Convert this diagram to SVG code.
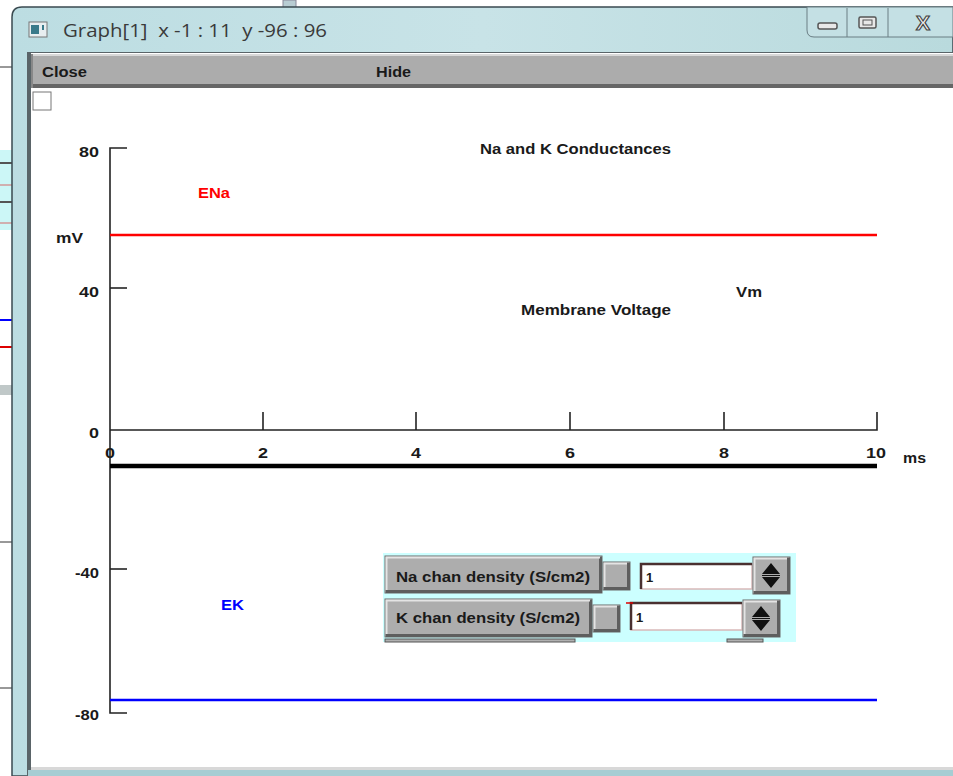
<svg xmlns="http://www.w3.org/2000/svg" width="953" height="776" viewBox="0 0 953 776">
<defs>
<linearGradient id="title" x1="0" y1="0" x2="1" y2="0">
<stop offset="0" stop-color="#bcdde2"/><stop offset="0.5" stop-color="#c8e3e7"/><stop offset="1" stop-color="#b9dadd"/>
</linearGradient>
<style>
.lbl{font-family:"Liberation Sans",Arial,sans-serif;font-weight:bold;font-size:14.5px;fill:#1a1a1a}
.tk{text-anchor:end}
.ax{stroke:#222;stroke-width:1.6;fill:none}
.b3{fill:#adadad;stroke:#6a6a6a;stroke-width:1}
.hl{fill:none;stroke:#e4e4e4;stroke-width:2}
.sh{fill:none;stroke:#5e5e5e;stroke-width:3}
.tf{fill:#fff;stroke:#d8b8b8;stroke-width:1.5}
</style>
</defs>
<rect width="953" height="776" fill="#ffffff"/>
<g id="background">
<rect x="283" y="0" width="13" height="8" fill="#b8cdd3" stroke="#889" stroke-width="1"/>
<line x1="0" y1="67" x2="13" y2="67" stroke="#333" stroke-width="1"/>
<rect x="0" y="150" width="13" height="80" fill="#ccf7f7"/>
<line x1="0" y1="163" x2="13" y2="163" stroke="#555" stroke-width="2"/>
<line x1="0" y1="185" x2="13" y2="185" stroke="#d0b0b0" stroke-width="2"/>
<line x1="0" y1="202" x2="13" y2="202" stroke="#555" stroke-width="2"/>
<line x1="0" y1="223" x2="13" y2="223" stroke="#d0b0b0" stroke-width="2"/>
<line x1="0" y1="320" x2="13" y2="320" stroke="#0000ff" stroke-width="2"/>
<line x1="0" y1="347" x2="13" y2="347" stroke="#d00" stroke-width="2"/>
<rect x="0" y="385" width="13" height="10" fill="#c0c8c8"/>
<line x1="0" y1="542" x2="13" y2="542" stroke="#333" stroke-width="1"/>
<line x1="0" y1="688" x2="13" y2="688" stroke="#333" stroke-width="1"/>
</g>
<g id="window">
<path d="M12,776 V17 Q12,7 22,7 H953 V776 Z" fill="url(#title)" stroke="#3a4a50" stroke-width="1.5"/>
<rect x="27" y="52" width="926" height="724" fill="#5a6468"/>
<rect x="31" y="53" width="922" height="716" fill="#ffffff"/>
<rect x="31" y="767" width="922" height="3" fill="#d8d8d8"/>
<rect x="28" y="770" width="925" height="6" fill="#a6cdd3"/>
<g id="icon">
<rect x="29" y="22" width="18" height="15" fill="#e8eef0" stroke="#777" stroke-width="1"/>
<rect x="31" y="25" width="8" height="9" fill="#3a7a8a"/>
<rect x="42" y="25" width="2" height="5" fill="#3a7a8a"/>
</g>
<text x="63" y="37" font-family="Open Sans,Liberation Sans,sans-serif" font-size="19" fill="#3a3a3a" xml:space="preserve" textLength="264" lengthAdjust="spacingAndGlyphs">Graph[1]  x -1 : 11  y -96 : 96</text>
<g id="caption-buttons">
<path d="M807,7 V30 Q807,37 814,37 H953 V7 Z" fill="#c4e0e4" stroke="#6a7e84" stroke-width="1"/>
<line x1="847" y1="8" x2="847" y2="37" stroke="#6a7e84"/>
<line x1="888" y1="8" x2="888" y2="37" stroke="#6a7e84"/>
<rect x="818" y="23" width="19" height="6" rx="2" fill="#e8e8e8" stroke="#555" stroke-width="1.5"/>
<rect x="859" y="17" width="17" height="11" rx="1.5" fill="#e8e8e8" stroke="#555" stroke-width="1.5"/>
<rect x="863" y="20" width="9" height="5" fill="none" stroke="#555" stroke-width="1"/>
<text x="923" y="30" text-anchor="middle" font-family="Liberation Sans,sans-serif" font-weight="bold" font-size="21" fill="#f0f0f0" stroke="#444" stroke-width="1.2">X</text>
</g>
</g>
<g id="menubar">
<rect x="31" y="54" width="922" height="34" fill="#acacac"/>
<rect x="31" y="54" width="922" height="2" fill="#d8d8d8"/>
<rect x="31" y="84" width="922" height="4" fill="#666"/>
<rect x="31" y="54" width="2" height="34" fill="#888"/>
<text class="lbl" x="42" y="77" textLength="45" lengthAdjust="spacingAndGlyphs">Close</text>
<text class="lbl" x="376" y="77" textLength="35" lengthAdjust="spacingAndGlyphs">Hide</text>
</g>
<rect id="checkbox" x="33" y="92" width="18" height="18" fill="#fff" stroke="#777" stroke-width="1"/>
<g id="axes">
<path class="ax" d="M127,148 H110 V713 H127"/>
<line class="ax" x1="110" y1="288" x2="127" y2="288"/>
<line class="ax" x1="110" y1="569" x2="127" y2="569"/>
<path class="ax" d="M110,430 H877 V412"/>
<line class="ax" x1="263" y1="430" x2="263" y2="412"/>
<line class="ax" x1="416" y1="430" x2="416" y2="412"/>
<line class="ax" x1="570" y1="430" x2="570" y2="412"/>
<line class="ax" x1="724" y1="430" x2="724" y2="412"/>
<text class="lbl tk" x="99" y="157" textLength="20" lengthAdjust="spacingAndGlyphs">80</text>
<text class="lbl tk" x="99" y="297" textLength="20" lengthAdjust="spacingAndGlyphs">40</text>
<text class="lbl tk" x="99" y="438" textLength="10" lengthAdjust="spacingAndGlyphs">0</text>
<text class="lbl tk" x="99" y="578" textLength="24" lengthAdjust="spacingAndGlyphs">-40</text>
<text class="lbl tk" x="99" y="720" textLength="24" lengthAdjust="spacingAndGlyphs">-80</text>
<text class="lbl" x="56" y="243" textLength="27" lengthAdjust="spacingAndGlyphs">mV</text>
<text class="lbl" x="105" y="458" textLength="10" lengthAdjust="spacingAndGlyphs">0</text>
<text class="lbl" x="258" y="458" textLength="10" lengthAdjust="spacingAndGlyphs">2</text>
<text class="lbl" x="411" y="458" textLength="10" lengthAdjust="spacingAndGlyphs">4</text>
<text class="lbl" x="565" y="458" textLength="10" lengthAdjust="spacingAndGlyphs">6</text>
<text class="lbl" x="719" y="458" textLength="10" lengthAdjust="spacingAndGlyphs">8</text>
<text class="lbl" x="866" y="458" textLength="20" lengthAdjust="spacingAndGlyphs">10</text>
<text class="lbl" x="903" y="463" textLength="23" lengthAdjust="spacingAndGlyphs">ms</text>
</g>
<g id="traces">
<line x1="110" y1="235" x2="877" y2="235" stroke="#ff0000" stroke-width="2.5"/>
<line x1="110" y1="466" x2="877" y2="466" stroke="#000" stroke-width="4.5"/>
<line x1="110" y1="700" x2="877" y2="700" stroke="#0000ff" stroke-width="2.5"/>
</g>
<g id="labels">
<text class="lbl" x="480" y="154" textLength="191" lengthAdjust="spacingAndGlyphs">Na and K Conductances</text>
<text class="lbl" x="198" y="198" style="fill:#ff0000" textLength="32" lengthAdjust="spacingAndGlyphs">ENa</text>
<text class="lbl" x="736" y="297" textLength="26" lengthAdjust="spacingAndGlyphs">Vm</text>
<text class="lbl" x="521" y="315" textLength="150" lengthAdjust="spacingAndGlyphs">Membrane Voltage</text>
<text class="lbl" x="221" y="610" style="fill:#0000ff" textLength="23" lengthAdjust="spacingAndGlyphs">EK</text>
</g>
<g id="panel">
<rect x="383" y="553" width="413" height="89" fill="#ccffff"/>
<g id="na-row">
<rect class="b3" x="385" y="556" width="217" height="37"/>
<path class="sh" d="M386,591.5 H600.5 V557"/>
<path class="hl" d="M386.5,590 V557.5 H600"/>
<text class="lbl" x="396" y="582" textLength="194" lengthAdjust="spacingAndGlyphs">Na chan density (S/cm2)</text>
<rect class="b3" x="603" y="562" width="27" height="28"/>
<path class="sh" d="M604,588.5 H628.5 V563"/>
<path class="hl" d="M604.5,587 V563.5 H627"/>
<rect class="tf" x="641" y="564" width="111" height="25"/>
<path d="M641,589 V564 H752" fill="none" stroke="#4a3030" stroke-width="2.5"/>
<text class="lbl" x="646" y="582" style="font-size:13px">1</text>
<rect class="b3" x="753" y="557" width="37" height="37"/>
<path class="sh" d="M754,592.5 H788.5 V558"/>
<path class="hl" d="M754.5,591 V558.5 H787"/>
<path d="M771,563 L762,574 H780 Z M771,588 L762,577 H780 Z" fill="#111"/>
<line x1="762" y1="575.5" x2="780" y2="575.5" stroke="#111" stroke-width="1"/>
</g>
<g id="k-row">
<rect class="b3" x="385" y="599" width="207" height="38"/>
<path class="sh" d="M386,635.5 H590.5 V600"/>
<path class="hl" d="M386.5,634 V600.5 H590"/>
<text class="lbl" x="396" y="623" textLength="184" lengthAdjust="spacingAndGlyphs">K chan density (S/cm2)</text>
<rect class="b3" x="593" y="605" width="27" height="27"/>
<path class="sh" d="M594,630.5 H618.5 V606"/>
<path class="hl" d="M594.5,629 V606.5 H617"/>
<rect class="tf" x="631" y="603" width="111" height="27"/>
<path d="M631,630 V603 H742" fill="none" stroke="#4a3030" stroke-width="2.5"/>
<line x1="626" y1="603" x2="633" y2="603" stroke="#d00" stroke-width="1.5"/>
<text class="lbl" x="636" y="622" style="font-size:13px">1</text>
<rect class="b3" x="743" y="600" width="37" height="37"/>
<path class="sh" d="M744,635.5 H778.5 V601"/>
<path class="hl" d="M744.5,634 V601.5 H777"/>
<path d="M761,606 L752,617 H770 Z M761,631 L752,620 H770 Z" fill="#111"/>
<line x1="752" y1="618.5" x2="770" y2="618.5" stroke="#111" stroke-width="1"/>
</g>
<g id="third-row">
<rect x="385" y="639" width="190" height="3" fill="#b0b0b0" stroke="#555" stroke-width="1"/>
<rect x="727" y="639" width="36" height="3" fill="#b0b0b0" stroke="#555" stroke-width="1"/>
</g>
</g>
</svg>
